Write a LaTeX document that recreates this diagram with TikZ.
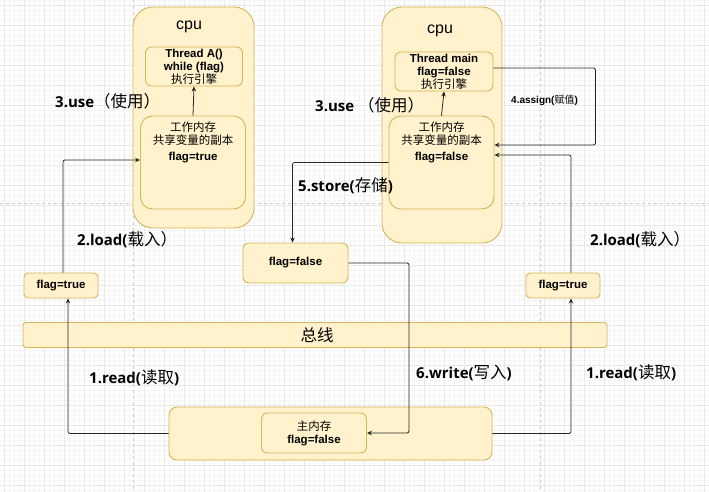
\documentclass[tikz,border=0pt]{standalone}
\usepackage{fontspec}
\setmainfont{Liberation Sans}
\newfontfamily\cjk{Noto Sans CJK SC}
\newfontfamily\labelfont{Open Sans}
\usetikzlibrary{arrows.meta}

\definecolor{boxfill}{HTML}{FFF2CC}
\definecolor{boxline}{HTML}{D6B656}
\definecolor{gridline}{HTML}{E8E8E8}

\tikzset{
    ybox/.style={
        rectangle,
        draw=boxline,
        fill=boxfill,
        line width=0.9pt,
        inner sep=0pt},
    boxtext/.style={
        align=center,
        font={\fontsize{11.5}{13}\selectfont\bfseries}},
    steplabel/.style={
        anchor=west,
        inner sep=0pt,
        font={\fontsize{15}{17}\selectfont\labelfont\bfseries}},
    flow/.style={
        draw=black!85,
        line width=0.8pt,
        rounded corners=2pt,
        -{Stealth[length=5pt,width=4.5pt]}}
}

\newcommand{\zh}[1]{{\cjk\mdseries #1}}
\newcommand{\zhl}[1]{{\fontsize{16.5}{17}\selectfont\cjk\mdseries #1}}

\begin{document}
\begin{tikzpicture}[x=1pt,y=-1pt]
    \useasboundingbox (0,0) rectangle (709,492);

    % background grid
    \foreach \gx in {4,9,...,709}
        \draw[gridline!45, line width=0.3pt] (\gx,0) -- (\gx,492);
    \foreach \gy in {0,5,...,492}
        \draw[gridline!45, line width=0.3pt] (0,\gy) -- (709,\gy);
    \foreach \gx in {4,24,...,709}
        \draw[gridline, line width=0.4pt] (\gx,0) -- (\gx,492);
    \foreach \gy in {5,25,...,492}
        \draw[gridline, line width=0.4pt] (0,\gy) -- (709,\gy);
    \draw[black!20, dashed, line width=0.4pt] (133,0) -- (133,492);
    \draw[black!20, dashed, line width=0.4pt] (540,0) -- (540,492);
    \draw[black!20, dashed, line width=0.4pt] (0,203) -- (709,203);

    % left cpu
    \node[
        ybox,
        rounded corners=20pt,
        minimum width=121pt,
        minimum height=221pt]
        (cpuA) at (193.5,117.5) {};
    \node[font={\fontsize{16}{18}\selectfont}] (cpuAname) at (189,27) {cpu};

    \node[
        ybox,
        rounded corners=6pt,
        minimum width=97pt,
        minimum height=39pt]
        (threadA) at (194,66.5) {};
    \node[boxtext] (threadAtext) at (194,67)
        {Thread A()\\while (flag)\\\zh{执行引擎}};

    \node[
        ybox,
        rounded corners=12pt,
        minimum width=105pt,
        minimum height=93pt]
        (memA) at (193,162.5) {};
    \node[boxtext] (memAtext) at (193,142)
        {\zh{工作内存}\\\zh{共享变量的副本}\\[3pt]flag=true};

    % right cpu
    \node[
        ybox,
        rounded corners=20pt,
        minimum width=120pt,
        minimum height=236pt]
        (cpuB) at (442,125) {};
    \node[font={\fontsize{16}{18}\selectfont}] (cpuBname) at (440,31) {cpu};

    \node[
        ybox,
        rounded corners=6pt,
        minimum width=98pt,
        minimum height=39pt]
        (threadB) at (444,71.5) {};
    \node[boxtext] (threadBtext) at (444,71.5)
        {Thread main\\flag=false\\\zh{执行引擎}};

    \node[
        ybox,
        rounded corners=12pt,
        minimum width=105pt,
        minimum height=93pt]
        (memB) at (441.5,162.5) {};
    \node[boxtext] (memBtext) at (441.5,142)
        {\zh{工作内存}\\\zh{共享变量的副本}\\[3pt]flag=false};

    % copies on the way
    \node[
        ybox,
        boxtext,
        rounded corners=4pt,
        minimum width=74pt,
        minimum height=25pt]
        (flagL) at (61,285.5) {flag=true};
    \node[
        ybox,
        boxtext,
        rounded corners=4pt,
        minimum width=74pt,
        minimum height=25pt]
        (flagR) at (563,285.5) {flag=true};
    \node[
        ybox,
        boxtext,
        rounded corners=6pt,
        minimum width=105pt,
        minimum height=40pt]
        (flagM) at (295.5,263) {flag=false};

    % bus
    \node[
        ybox,
        rounded corners=3pt,
        minimum width=584pt,
        minimum height=25pt]
        (bus) at (315,335) {};
    \node[font={\fontsize{16.5}{18}\selectfont\cjk}] (busname) at (317,335) {总线};

    % main memory
    \node[
        ybox,
        rounded corners=8pt,
        minimum width=323pt,
        minimum height=53pt]
        (mainOut) at (330.5,433.5) {};
    \node[
        ybox,
        boxtext,
        rounded corners=6pt,
        minimum width=105pt,
        minimum height=40pt]
        (mainIn) at (314,433) {\zh{主内存}\\flag=false};

    % flows
    \draw[flow] (memA.north) -- (threadA.south);
    \draw[flow] (memB.north) -- (threadB.south);
    \draw[flow] (mainOut.west) -| ([xshift=7pt]flagL.south);
    \draw[flow] ([xshift=2pt]flagL.north) |- ([yshift=2.5pt]memA.west);
    \draw[flow] (mainOut.east) -| ([xshift=8pt]flagR.south);
    \draw[flow] ([xshift=8pt]flagR.north) |- ([yshift=7.5pt]memB.east);
    \draw[flow] ([yshift=3.5pt]threadB.east) -- ++(102,0) |- ([yshift=17.5pt]memB.east);
    \draw[flow] (memB.west) -| ([xshift=-3pt]flagM.north);
    \draw[flow] (flagM.east) -| ([xshift=42pt]mainIn.east) -- (mainIn.east);

    % step labels
    \node[steplabel] (useA) at (55,101) {3.use\zhl{（使用）}};
    \node[steplabel] (useB) at (315,105) {3.use \zhl{（使用）}};
    \node[steplabel] (loadA) at (77,240) {2.load(\zhl{载入）}};
    \node[steplabel] (loadB) at (590,240) {2.load(\zhl{载入）}};
    \node[steplabel] (readA) at (89,378) {1.read(\zhl{读取})};
    \node[steplabel] (readB) at (586,373) {1.read(\zhl{读取})};
    \node[steplabel] (store) at (298,186) {5.store(\zhl{存储})};
    \node[steplabel] (write) at (416,373) {6.write(\zhl{写入})};
    \node[
        anchor=west,
        inner sep=0pt,
        font={\fontsize{10}{12}\selectfont\bfseries}]
        (assign) at (511,100) {4.assign(\zh{赋值})};
\end{tikzpicture}
\end{document}
